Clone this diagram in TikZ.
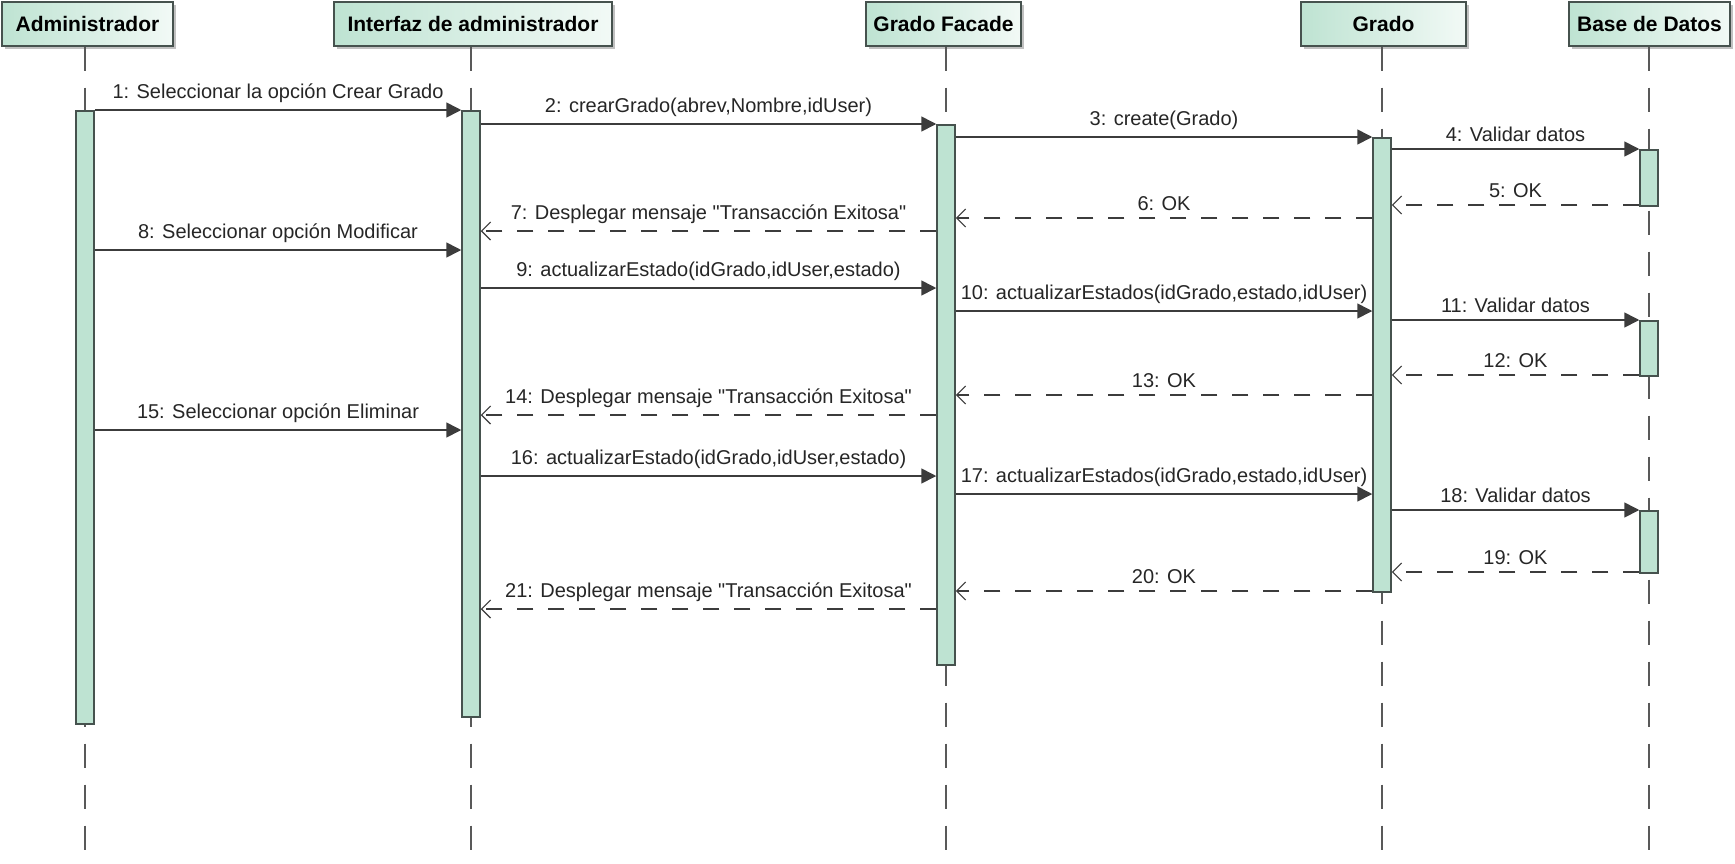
\documentclass[tikz,border=0pt]{standalone}
\usepackage{fontspec}
\setmainfont{Liberation Sans}[Ligatures=TeXOff]
\usetikzlibrary{shadows,arrows.meta}
\definecolor{mint}{RGB}{190,227,210}
\definecolor{ln}{RGB}{60,60,60}
\definecolor{brd}{RGB}{70,82,78}
\begin{document}
\begin{tikzpicture}[x=1pt,y=-1pt,
  hdr/.style={draw=brd, line width=1.4pt, left color=mint, right color=mint!20,
    minimum height=44pt, inner sep=0pt,
    font=\fontsize{21}{23}\selectfont\bfseries,
    drop shadow={shadow xshift=3pt, shadow yshift=-3pt, fill=black!40, opacity=0.6}},
  life/.style={draw=ln!85, line width=1.2pt, dash pattern=on 24pt off 17pt},
  actbar/.style={draw=brd, line width=1.5pt, fill=mint, minimum width=18pt, inner sep=0pt, anchor=north},
  call/.style={draw=ln, line width=1.6pt, -{Triangle[length=15pt,width=15pt]}},
  ret/.style={draw=ln, line width=1.6pt, dash pattern=on 16pt off 15pt, -{Straight Barb[length=9pt,width=18pt,line width=1.2pt]}},
  lbl/.style={font=\fontsize{20}{22}\selectfont, text=black!85, inner sep=1pt, above=6pt}
]
\useasboundingbox (0,0) rectangle (1735,863);
\fill[white] (0,0) rectangle (1735,863);

% lifeline x positions
\coordinate (xA) at (85,0);
\coordinate (xI) at (471,0);
\coordinate (xF) at (946,0);
\coordinate (xG) at (1382,0);
\coordinate (xD) at (1649,0);
\coordinate (bot) at (0,863);

% headers
\node[hdr, minimum width=171pt] (hA) at (87.5,24) {Administrador};
\node[hdr, minimum width=278pt] (hI) at (473,24) {Interfaz de administrador};
\node[hdr, minimum width=155pt] (hF) at (943.5,24) {Grado Facade};
\node[hdr, minimum width=165pt] (hG) at (1383.5,24) {Grado};
\node[hdr, minimum width=161pt] (hD) at (1649.5,24) {Base de Datos};

% lifelines
\draw[life] (hA.south -| xA) -- (xA |- bot);
\draw[life] (hI.south -| xI) -- (xI |- bot);
\draw[life] (hF.south -| xF) -- (xF |- bot);
\draw[life] (hG.south -| xG) -- (xG |- bot);
\draw[life] (hD.south -| xD) -- (xD |- bot);

% activation bars
\node[actbar, minimum height=613pt] (A1) at (85,110) {};
\node[actbar, minimum height=606pt] (I1) at (471,110) {};
\node[actbar, minimum height=540pt] (F1) at (946,124) {};
\node[actbar, minimum height=454pt] (G1) at (1382,137) {};
\node[actbar, minimum height=56pt] (D1) at (1649,149) {};
\node[actbar, minimum height=55pt] (D2) at (1649,320) {};
\node[actbar, minimum height=62pt] (D3) at (1649,510) {};

% message rows
\coordinate (m1) at (0,110);
\coordinate (m2) at (0,124);
\coordinate (m3) at (0,137);
\coordinate (m4) at (0,149);
\coordinate (m5) at (0,205);
\coordinate (m6) at (0,218);
\coordinate (m7) at (0,231);
\coordinate (m8) at (0,250);
\coordinate (m9) at (0,288);
\coordinate (m10) at (0,311);
\coordinate (m11) at (0,320);
\coordinate (m12) at (0,375);
\coordinate (m13) at (0,395);
\coordinate (m14) at (0,415);
\coordinate (m15) at (0,430);
\coordinate (m16) at (0,476);
\coordinate (m17) at (0,494);
\coordinate (m18) at (0,510);
\coordinate (m19) at (0,572);
\coordinate (m20) at (0,591);
\coordinate (m21) at (0,609);

% messages
\draw[call] (A1.east |- m1) -- node[lbl] {1: Seleccionar la opción Crear Grado} (I1.west |- m1);
\draw[call] (I1.east |- m2) -- node[lbl] {2: crearGrado(abrev,Nombre,idUser)} (F1.west |- m2);
\draw[call] (F1.east |- m3) -- node[lbl] {3: create(Grado)} (G1.west |- m3);
\draw[call] (G1.east |- m4) -- node[lbl] {4: Validar datos} (D1.west |- m4);
\draw[ret] (D1.west |- m5) -- node[lbl] {5: OK} (G1.east |- m5);
\draw[ret] (G1.west |- m6) -- node[lbl] {6: OK} (F1.east |- m6);
\draw[ret] (F1.west |- m7) -- node[lbl] {7: Desplegar mensaje "Transacción Exitosa"} (I1.east |- m7);
\draw[call] (A1.east |- m8) -- node[lbl] {8: Seleccionar opción Modificar} (I1.west |- m8);
\draw[call] (I1.east |- m9) -- node[lbl] {9: actualizarEstado(idGrado,idUser,estado)} (F1.west |- m9);
\draw[call] (F1.east |- m10) -- node[lbl] {10: actualizarEstados(idGrado,estado,idUser)} (G1.west |- m10);
\draw[call] (G1.east |- m11) -- node[lbl] {11: Validar datos} (D2.west |- m11);
\draw[ret] (D2.west |- m12) -- node[lbl] {12: OK} (G1.east |- m12);
\draw[ret] (G1.west |- m13) -- node[lbl] {13: OK} (F1.east |- m13);
\draw[ret] (F1.west |- m14) -- node[lbl] {14: Desplegar mensaje "Transacción Exitosa"} (I1.east |- m14);
\draw[call] (A1.east |- m15) -- node[lbl] {15: Seleccionar opción Eliminar} (I1.west |- m15);
\draw[call] (I1.east |- m16) -- node[lbl] {16: actualizarEstado(idGrado,idUser,estado)} (F1.west |- m16);
\draw[call] (F1.east |- m17) -- node[lbl] {17: actualizarEstados(idGrado,estado,idUser)} (G1.west |- m17);
\draw[call] (G1.east |- m18) -- node[lbl] {18: Validar datos} (D3.west |- m18);
\draw[ret] (D3.west |- m19) -- node[lbl] {19: OK} (G1.east |- m19);
\draw[ret] (G1.west |- m20) -- node[lbl] {20: OK} (F1.east |- m20);
\draw[ret] (F1.west |- m21) -- node[lbl] {21: Desplegar mensaje "Transacción Exitosa"} (I1.east |- m21);
\end{tikzpicture}
\end{document}
